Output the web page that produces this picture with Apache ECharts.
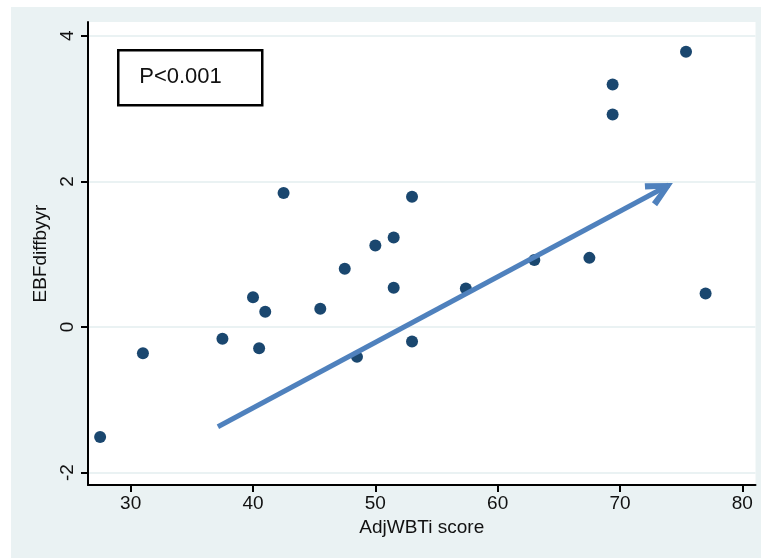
<!DOCTYPE html>
<html>
<head>
<meta charset="utf-8">
<script src="https://cdn.jsdelivr.net/npm/echarts@6/dist/echarts.min.js"></script>
<style>html,body{margin:0;padding:0;background:#fff}#c{width:761px;height:558px}</style>
</head>
<body>
<div id="c"></div>
<script>
// Data
var adjWBTi = [27.5, 31.0, 37.5, 40.0, 40.5, 41.0, 42.5, 45.5, 47.5, 48.5, 50.0, 51.5, 51.5, 53.0, 53.0, 57.4, 63.0, 67.5, 69.4, 69.4, 75.4, 77.0];
var ebfDiff = [-1.51, -0.36, -0.16, 0.41, -0.29, 0.21, 1.84, 0.25, 0.80, -0.41, 1.12, 0.54, 1.23, 1.79, -0.20, 0.53, 0.92, 0.95, 3.33, 2.92, 3.78, 0.46];
var xTicks = [30, 40, 50, 60, 70, 80];
var yTicks = [-2, 0, 2, 4];
var arrowStart = [37.13, -1.37];
var arrowEnd = [74.0, 1.95];
var annotationText = 'P<0.001';
var xTitle = 'AdjWBTi score';
var yTitle = 'EBFdiffbyyr';

var points = adjWBTi.map(function (x, i) { return [x, ebfDiff[i]]; });
var chevron = 'path://M13.05,0 L13.06,0 L13.05,0.01 Z M13.05,18.59 L26.1,43.48 L20.3,46.18 L13.05,30.66 L5.8,46.18 L0,43.48 Z';

var chart = echarts.init(document.getElementById('c'), null, { renderer: 'canvas' });
chart.setOption({
  backgroundColor: '#ffffff',
  animation: false,
  graphic: [
    { type: 'rect', z: -100, silent: true, shape: { x: 11, y: 7, width: 750, height: 551 }, style: { fill: '#eaf2f3' } },
    { type: 'group', left: 117, top: 49, z: 100, children: [
      { type: 'rect', shape: { x: 0, y: 0, width: 144, height: 55 }, style: { fill: '#ffffff', stroke: '#000000', lineWidth: 2.5 } },
      { type: 'text', x: 21, y: 27, style: { text: annotationText, fill: '#111', font: '22px "Liberation Sans", Arial, sans-serif', verticalAlign: 'middle', textAlign: 'left' } }
    ]}
  ],
  grid: { left: 88, right: 5.5, top: 22, bottom: 73, show: true, backgroundColor: '#ffffff', borderWidth: 0 },
  xAxis: {
    type: 'value', min: 26.51, max: 81.08,
    name: xTitle, nameLocation: 'middle', nameGap: 33,
    nameTextStyle: { color: '#111', fontSize: 19, fontFamily: 'Liberation Sans' },
    axisLine: { show: true, onZero: false, lineStyle: { color: '#000', width: 2 } },
    axisTick: { show: true, length: 7, lineStyle: { color: '#000', width: 2 }, customValues: xTicks },
    axisLabel: { customValues: xTicks, color: '#111', fontSize: 19, fontFamily: 'Liberation Sans', margin: 9 },
    splitLine: { show: false }
  },
  yAxis: {
    type: 'value', min: -2.17, max: 4.19,
    name: yTitle, nameLocation: 'middle', nameGap: 37, nameRotate: 90,
    nameTextStyle: { color: '#111', fontSize: 19, fontFamily: 'Liberation Sans' },
    axisLine: { show: true, onZero: false, lineStyle: { color: '#000', width: 2 } },
    axisTick: { show: true, length: 7, lineStyle: { color: '#000', width: 2 }, customValues: yTicks },
    axisLabel: { customValues: yTicks, rotate: 90, color: '#111', fontSize: 19, fontFamily: 'Liberation Sans', margin: 11 },
    splitLine: { show: true, lineStyle: { color: '#eaf2f3', width: 2 } }
  },
  series: [{
    type: 'scatter',
    data: points,
    symbol: 'circle',
    symbolSize: 12,
    itemStyle: { color: '#1a476f', opacity: 1 },
    silent: true,
    markLine: {
      silent: true,
      symbol: ['none', chevron],
      symbolSize: [26.1, 46.18],
      label: { show: false },
      lineStyle: { color: '#4f81bd', width: 5, type: 'solid', opacity: 1 },
      itemStyle: { color: '#4f81bd' },
      data: [[{ coord: arrowStart }, { coord: arrowEnd }]]
    }
  }]
});
</script>
</body>
</html>
